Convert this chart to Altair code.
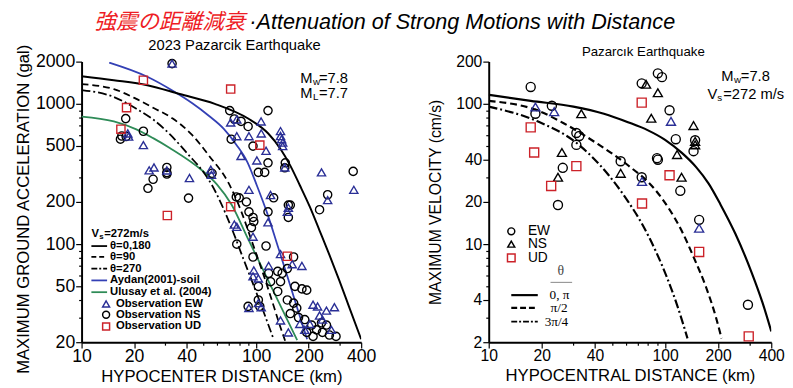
import altair as alt
import pandas as pd

# ---------------- texts ----------------
TITLE_JA = "強震の距離減衰"
TITLE_EN = "·Attenuation of Strong Motions with Distance"

# ---------------- left panel: acceleration (gal) vs hypocenter distance (km) -------------
acc_t0_R = [10, 15.3, 23.8, 36.5, 58, 90, 117, 138, 157, 178, 203, 231, 263, 300, 341, 400]
acc_t0_A = [1571, 1473, 1359, 1175, 1001, 786, 617, 477, 363, 263, 185, 125, 84, 55, 35.7, 21]
acc_t90_R = [10, 15.3, 20.6, 25.7, 33.3, 43.1, 53.8, 69.6, 82.4, 93.7, 106.8, 121.4, 138, 147]
acc_t90_A = [1381, 1274, 1085, 938, 786, 598, 426, 272, 170, 108, 68, 42, 25.5, 20.3]
acc_t270_R = [10, 15.3, 20.6, 25.7, 32.0, 41.5, 49.1, 55.9, 62.8, 72.4, 84.5, 102.6, 126]
acc_t270_A = [1254, 1120, 923, 774, 608, 426, 335, 263, 197, 130, 78.6, 42, 21]
acc_aydan_R = [14.4, 23.8, 33.3, 43.1, 53.8, 65.3, 77.2, 89.1, 101, 116, 133, 151, 172, 196]
acc_aydan_A = [1968, 1560, 1240, 1010, 820, 664, 510, 385, 262, 165, 97, 59, 35.1, 21]
acc_ulusay_R = [10, 15.3, 20.6, 25.7, 32.0, 49.1, 59.6, 72.4, 90.2, 110.9, 138, 172]
acc_ulusay_A = [812, 749, 658, 570, 485, 335, 267, 191, 108, 63.8, 36.3, 20.7]

acc_ew_R = [33, 18.4, 18.6, 22.6, 24.4, 26, 30.8, 41.5, 55, 55.5, 71.5, 77.5, 106.8, 77.5, 91,
            107, 114, 138, 138, 140, 142, 142, 82, 101, 146, 237, 363, 257, 91, 121, 153, 151,
            75, 77.5, 96, 117, 138, 118, 183, 161, 96, 97, 103, 103, 107, 91, 138, 153, 212, 225,
            281, 253, 231, 178, 190, 203, 240, 270]
acc_ew_A = [1936, 615, 585, 508, 336, 352, 335, 296, 340, 312, 737, 774, 750, 588, 588,
            616, 463, 640, 590, 560, 530, 500, 425, 395, 352, 325, 244, 206, 244, 224, 182, 170,
            138, 133, 113, 143, 85, 70, 70, 72, 59, 65, 57, 38, 35.5, 35, 28.6, 23.5, 37, 36,
            35.5, 33.6, 31, 27, 24.5, 27, 29, 24.5]
acc_ns_R = [33, 17.9, 16.7, 17, 18, 22.6, 25.7, 24, 30.8, 30.8, 30.8, 41, 55.9, 70.6, 117, 82, 90,
            75, 72, 96, 117, 103, 112, 147, 146, 360, 257, 77, 88, 80, 91, 96, 94, 97, 77.5, 114,
            126, 153, 231, 153, 96, 164, 118, 133, 141, 151, 121, 138, 167, 183, 195, 133, 151,
            164, 171, 157, 175, 190, 208, 195, 222, 240, 263, 287, 212, 253, 237, 117, 103, 90,
            103, 105, 157]
acc_ns_A = [1936, 785, 560, 590, 585, 638, 290, 250, 352, 324, 316, 213, 320, 895, 895, 750, 690,
            780, 560, 500, 380, 325, 325, 380, 350, 330, 225, 217, 200, 214, 170, 155, 131, 145, 100, 97,
            214, 190, 176, 155, 81, 81, 62, 64, 62, 67, 54, 54, 50, 48, 47, 46, 40,
            38, 35, 32, 30, 29, 26.5, 23.5, 24.5, 23.5, 22.5, 22, 22, 26.5, 27.5, 170, 50, 36,
            40, 36, 190]
acc_ud_R = [22.6, 18.1, 16.8, 31, 71.5, 105, 71.5, 151]
acc_ud_A = [1474, 940, 660, 160, 1275, 508, 185, 82]

acc_ticks = [20, 30, 40, 50, 60, 70, 80, 90, 100, 200, 300, 400, 500, 600, 700, 800, 900, 1000, 2000]
acc_labels = [20, 50, 100, 200, 500, 1000, 2000]

# ---------------- right panel: velocity (cm/s) vs hypocentral distance (km) -------------
vel_t0_R = [10, 17.3, 30.2, 45, 61.6, 79.5, 100, 124, 150, 177, 206, 250, 310, 356, 400]
vel_t0_V = [116, 105, 95.6, 85, 74, 65, 55.4, 44.9, 35.4, 26.9, 19.2, 11.9, 6.25, 3.86, 2.39]
vel_t90_R = [10, 18.9, 26.6, 40.5, 61.6, 87, 104, 124, 146, 171, 194, 209]
vel_t90_V = [105, 89.7, 72.8, 52.8, 36.5, 24.8, 18.3, 12.5, 7.95, 4.91, 3.03, 2.13]
vel_t135_R = [10, 18.9, 31.4, 47.8, 61.6, 74.6, 88.1, 102.6, 118, 134]
vel_t135_V = [95.6, 75.1, 52.8, 31.1, 20.2, 13.7, 9.04, 5.77, 3.56, 2.13]

vel_ew_R = [17.3, 22.8, 18.4, 31.4, 32.6, 31.4, 26.3, 24.7, 56, 73.7, 73.7, 91, 96, 90, 91, 106,
            115, 122, 148, 145, 156, 295]
vel_ew_V = [132, 97, 85, 62, 59, 51, 35, 19, 39, 140, 30, 165, 155, 41, 40, 90,
            56, 24, 55, 46, 14.9, 3.7]
vel_ns_R = [33.5, 26, 24.7, 56, 78, 83.5, 91, 117, 124, 145, 148, 148]
vel_ns_V = [85, 45, 30, 32, 138, 79, 120, 43.5, 30, 70, 54, 51]
vel_ns2_R = [18.4, 23.5, 74, 108, 156]
vel_ns2_V = [95, 88, 28, 75, 13]
vel_ud_R = [73.7, 17.3, 18.1, 22.6, 31.4, 106, 74, 156, 298]
vel_ud_V = [102, 68, 45, 26, 36, 31, 19.5, 8.8, 2.2]

vel_ticks = [2, 3, 4, 5, 6, 7, 8, 9, 10, 20, 30, 40, 50, 60, 70, 80, 90, 100, 200]
vel_labels = [2, 4, 10, 20, 40, 100, 200]

dist_ticks = [10, 20, 30, 40, 50, 60, 70, 80, 90, 100, 200, 300, 400]
dist_labels = [10, 20, 40, 100, 200, 400]

# ---------------- helpers ----------------
SANS = "Liberation Sans"
SERIF = "Liberation Serif"
BLUE_PT = "#2a2f96"
RED_PT = "#cc2229"


def log_axis(ticks, labels, title, label_size, title_size, label_pad, title_pad, **kw):
    cond = "indexof(" + str(labels) + ", datum.value) >= 0"
    return alt.Axis(values=ticks, labelExpr=cond + " ? datum.label : ''", format="d",
                    title=title, titleFont=SANS, titleFontSize=title_size,
                    titleFontWeight="normal", titleColor="black",
                    labelFont=SANS, labelFontSize=label_size, labelColor="black",
                    domainColor="black", domainWidth=2, tickColor="black", tickWidth=1.2,
                    tickSize={"condition": {"test": cond, "value": 6}, "value": 3},
                    labelPadding=label_pad, titlePadding=title_pad, grid=False,
                    labelOverlap=False, labelFlush=False, **kw)


def df(R, V):
    return pd.DataFrame({"R": R, "V": V})


def txt(s, x, y, size, font=SANS, color="black", weight="normal", style="normal", align="left"):
    return alt.Chart(alt.Data(values=[{"t": s}])).mark_text(
        align=align, baseline="middle", font=font, fontSize=size, fontWeight=weight,
        fontStyle=style, color=color).encode(text="t:N", x=alt.value(x), y=alt.value(y))


def seg(x1, x2, y, color="black", width=2, dash=None):
    kw = dict(color=color, strokeWidth=width)
    if dash:
        kw["strokeDash"] = dash
    return alt.Chart(alt.Data(values=[{}])).mark_rule(**kw).encode(
        x=alt.value(x1), x2=alt.value(x2), y=alt.value(y))


def sym(shape, x, y, color, size):
    return alt.Chart(alt.Data(values=[{}])).mark_point(
        shape=shape, filled=False, color=color, size=size, strokeWidth=1.5, opacity=1).encode(
        x=alt.value(x), y=alt.value(y))


# ---------------- left panel ----------------
ax_x_left = alt.X("R:Q", scale=alt.Scale(type="log", domain=[10, 400], nice=False),
                  axis=log_axis(dist_ticks, dist_labels, "HYPOCENTER DISTANCE (km)", 18, 17, 0, 3))
ax_y_left = alt.Y("V:Q", scale=alt.Scale(type="log", domain=[20, 2000], nice=False),
                  axis=log_axis(acc_ticks, acc_labels, "MAXIMUM GROUND ACCELERATION (gal)", 18, 17, 1, 3,
                                titleY=150))


def lcurve(R, V, color, width, dash=None):
    kw = dict(color=color, strokeWidth=width, interpolate="monotone", clip=True)
    if dash:
        kw["strokeDash"] = dash
    return alt.Chart(df(R, V)).mark_line(**kw).encode(x=ax_x_left, y=ax_y_left, order="R:Q")


def lpts(R, V, shape, color, size):
    return alt.Chart(df(R, V)).mark_point(shape=shape, filled=False, color=color, size=size,
                                          strokeWidth=1.4, opacity=1).encode(x=ax_x_left, y=ax_y_left)


left_layers = [
    lcurve(acc_ulusay_R, acc_ulusay_A, "#2e8b57", 1.8),
    lcurve(acc_aydan_R, acc_aydan_A, "#3340b5", 1.8),
    lcurve(acc_t270_R, acc_t270_A, "black", 1.8, [9, 3, 2, 3]),
    lcurve(acc_t90_R, acc_t90_A, "black", 1.8, [7, 4]),
    lcurve(acc_t0_R, acc_t0_A, "black", 2),
    lpts(acc_ns_R, acc_ns_A, "circle", "black", 70),
    lpts(acc_ew_R, acc_ew_A, "triangle-up", BLUE_PT, 70),
    lpts(acc_ud_R, acc_ud_A, "square", RED_PT, 70),
    # title & annotations
    txt(TITLE_JA, 13, -40, 22, font="Noto Sans CJK JP", color="#ee1c25", style="italic"),
    txt(TITLE_EN, 171, -40, 22, style="italic"),
    txt("2023 Pazarcik Earthquake", 68, -17, 15),
    txt("M", 223, 17, 15), txt("w", 236, 21, 10), txt("=7.8", 242, 17, 15),
    txt("M", 223, 32, 15), txt("L", 236, 36, 10), txt("=7.7", 242, 32, 15),
    # legend
    txt("V", 10, 176, 11.5, weight="bold"), txt("s", 18, 179, 8, weight="bold"),
    txt("=272m/s", 23, 176, 11.5, weight="bold"),
    seg(10, 26, 188, width=1.8), txt("θ=0,180", 29, 188, 11.5, weight="bold"),
    seg(10, 26, 199, width=1.8, dash=[5, 3]), txt("θ=90", 29, 199, 11.5, weight="bold"),
    seg(10, 26, 211, width=1.8, dash=[6, 2, 2, 2]), txt("θ=270", 29, 211, 11.5, weight="bold"),
    seg(10, 26, 223, color="#3340b5", width=1.8), txt("Aydan(2001)-soil", 29, 223, 11.5, weight="bold"),
    seg(10, 26, 235, color="#2e8b57", width=1.8), txt("Ulusay et al. (2004)", 29, 235, 11.5, weight="bold"),
    sym("triangle-up", 25, 247, BLUE_PT, 50), txt("Observation EW", 35, 247, 11.5, weight="bold"),
    sym("circle", 25, 258, "black", 50), txt("Observation NS", 35, 258, 11.5, weight="bold"),
    sym("square", 25, 270, RED_PT, 50), txt("Observation UD", 35, 270, 11.5, weight="bold"),
]
left = alt.layer(*left_layers).properties(width=285, height=286)

# ---------------- right panel ----------------
ax_x_right = alt.X("R:Q", scale=alt.Scale(type="log", domain=[10, 400], nice=False),
                   axis=log_axis(dist_ticks, dist_labels, "HYPOCENTRAL DISTANCE (km)", 16, 17, 0, 4))
ax_y_right = alt.Y("V:Q", scale=alt.Scale(type="log", domain=[2, 200], nice=False),
                   axis=log_axis(vel_ticks, vel_labels, "MAXIMUM VELOCITY (cm/s)", 16, 16, 1, 12))


def rcurve(R, V, dash=None):
    kw = dict(color="black", strokeWidth=2.2, interpolate="monotone", clip=True)
    if dash:
        kw["strokeDash"] = dash
    return alt.Chart(df(R, V)).mark_line(**kw).encode(x=ax_x_right, y=ax_y_right, order="R:Q")


def rpts(R, V, shape, color, size):
    return alt.Chart(df(R, V)).mark_point(shape=shape, filled=False, color=color, size=size,
                                          strokeWidth=1.4, opacity=1).encode(x=ax_x_right, y=ax_y_right)


right_layers = [
    rcurve(vel_t135_R, vel_t135_V, [9, 3, 2, 3]),
    rcurve(vel_t90_R, vel_t90_V, [7, 4]),
    rcurve(vel_t0_R, vel_t0_V),
    rpts(vel_ew_R, vel_ew_V, "circle", "black", 85),
    rpts(vel_ns_R, vel_ns_V, "triangle-up", "black", 85),
    rpts(vel_ns2_R, vel_ns2_V, "triangle-up", BLUE_PT, 85),
    rpts(vel_ud_R, vel_ud_V, "square", RED_PT, 85),
    txt("Pazarcık Earthquake", 95, -10, 13.5),
    txt("M", 237, 15, 15), txt("w", 250, 19, 10), txt("=7.8", 257, 15, 15),
    txt("V", 223, 33, 15), txt("s", 233, 37, 10), txt("=272 m/s", 239, 33, 15),
    # legend
    sym("circle", 23, 173, "black", 50), txt("EW", 40, 173, 14),
    sym("triangle-up", 23, 186, "black", 50), txt("NS", 40, 186, 14),
    sym("square", 23, 200, RED_PT, 60), txt("UD", 40, 200, 14),
    txt("θ", 70, 213, 14, font=SERIF, color="#444444"),
    seg(63, 85, 225, color="#888888", width=1),
    seg(23, 50, 238, width=2.2), txt("0, π", 62, 238, 13.5, font=SERIF),
    seg(23, 50, 251, width=2.2, dash=[6, 3]), txt("π/2", 63, 251, 13.5, font=SERIF),
    seg(23, 50, 265, width=2, dash=[6, 2, 2, 2]), txt("3π/4", 57, 265, 13.5, font=SERIF),
]
right = alt.layer(*right_layers).properties(width=288, height=286)

chart = alt.hconcat(left, right, spacing=130, bounds="flush").configure_view(
    stroke=None).properties(padding={"left": 6, "top": 0, "right": 0, "bottom": 0},
                            background="white")

chart.save("out.html", embed_options={"renderer": "svg", "actions": False})
